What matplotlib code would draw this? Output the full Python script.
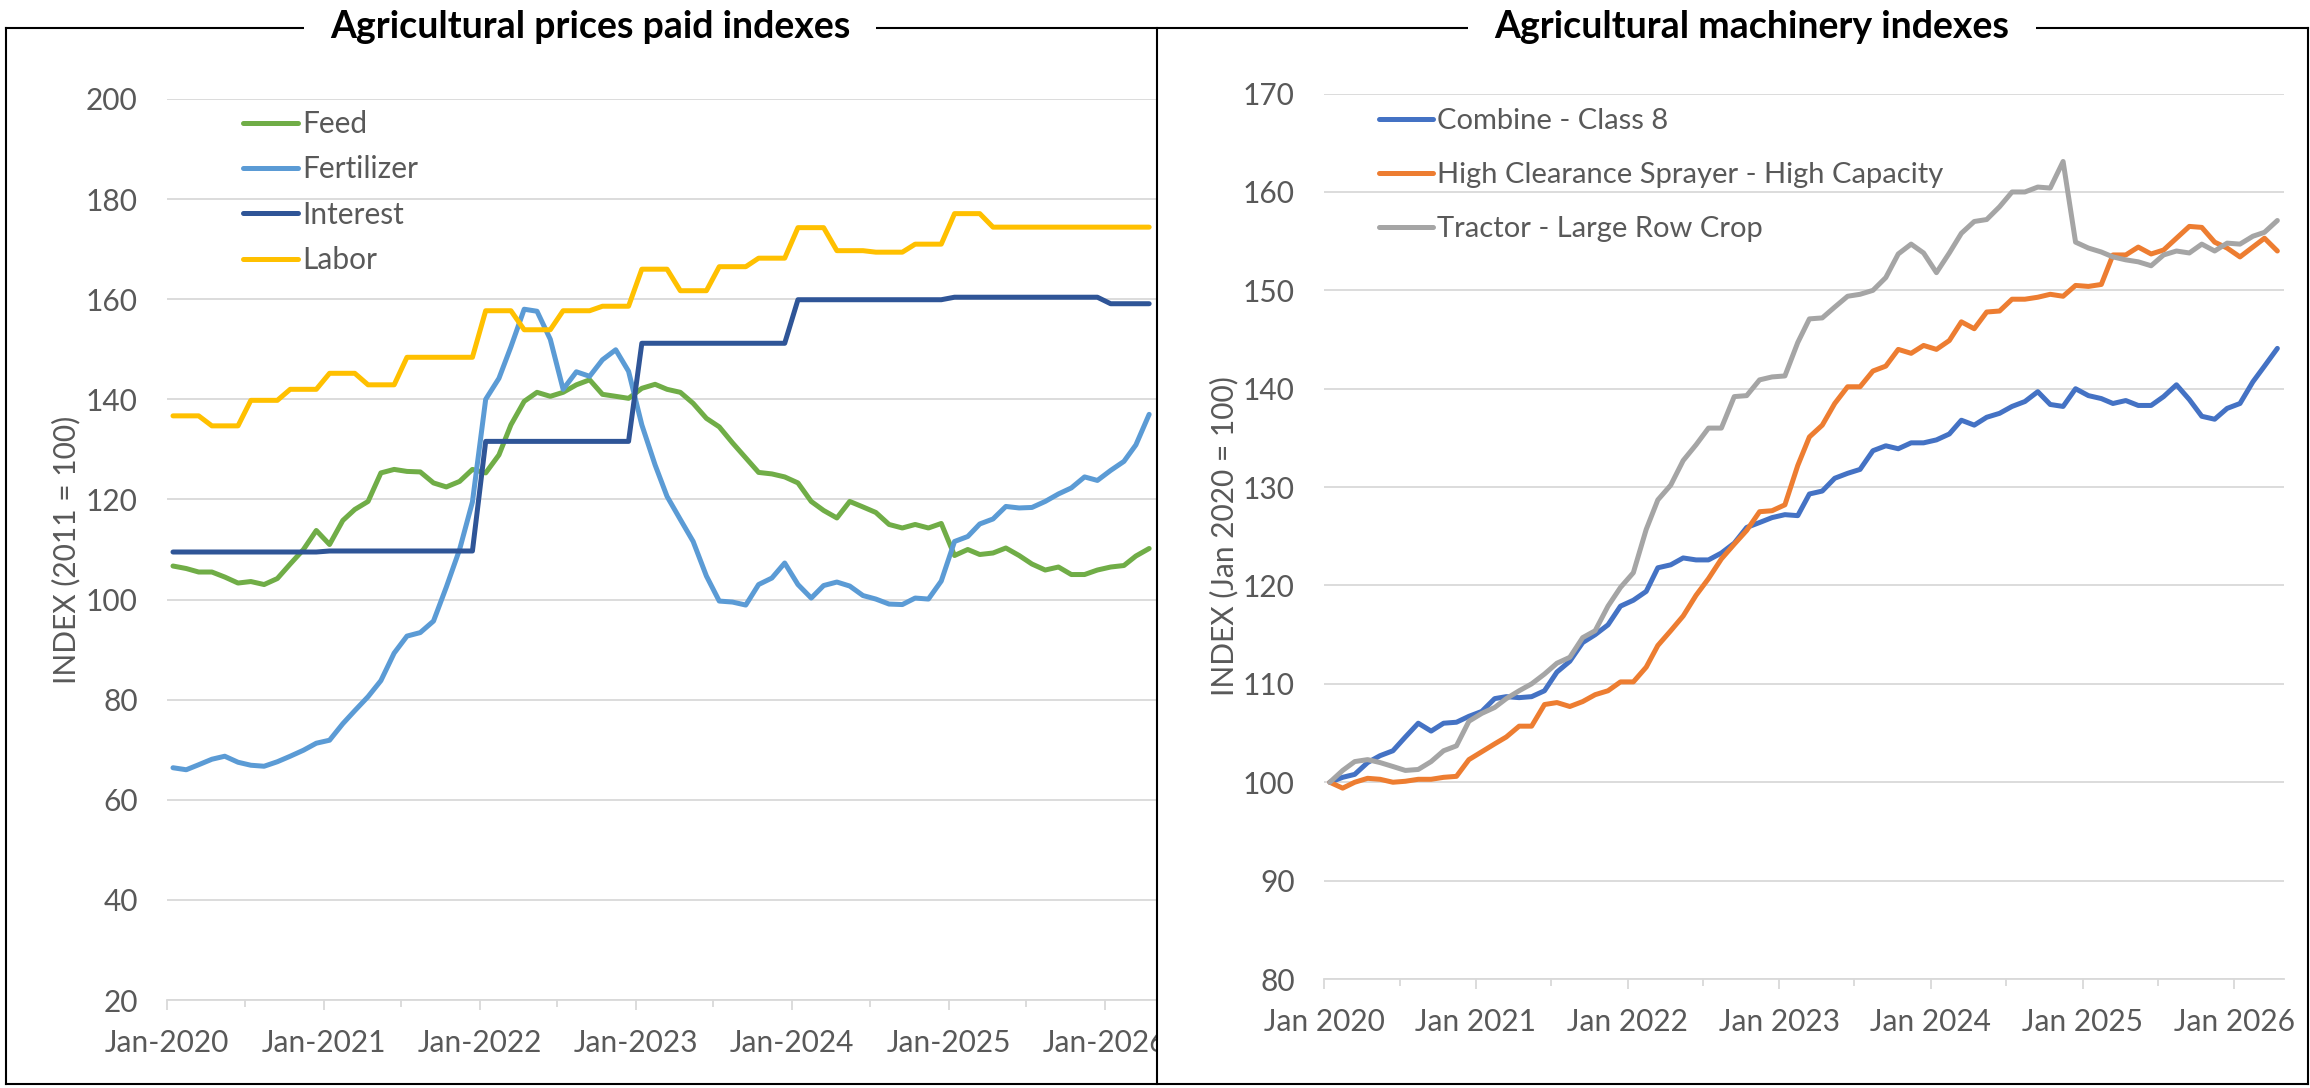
import pandas as pd
import matplotlib
matplotlib.use("Agg")
import matplotlib.pyplot as plt
import matplotlib.dates as mdates
from matplotlib.lines import Line2D
from matplotlib.transforms import Bbox, TransformedBbox

plt.rcParams["font.family"] = ["Lato", "DejaVu Sans"]

# monthly data Jan 2020 - Apr 2026, drawn at mid-month like the excel date axis
months = pd.date_range("2020-01-01", periods=76, freq="MS") + pd.Timedelta(days=14)

# ---- left panel: prices paid indexes (2011 = 100)
feed = [106.7, 106.2, 105.5, 105.5, 104.5, 103.3, 103.6, 103.0, 104.2, 107.1, 110.0, 113.8,
        111.0, 115.8, 118.0, 119.6, 125.3, 126.0, 125.6, 125.5, 123.3, 122.5, 123.6, 126.0,
        125.3, 128.9, 134.9, 139.6, 141.4, 140.6, 141.4, 142.9, 143.9, 141.0, 140.6, 140.2,
        142.2, 143.0, 142.0, 141.4, 139.2, 136.2, 134.5, 131.3, 128.3, 125.4, 125.1, 124.5,
        123.3, 119.6, 117.8, 116.3, 119.6, 118.5, 117.4, 115.0, 114.3, 115.0, 114.3, 115.2,
        108.8, 110.0, 109.0, 109.3, 110.3, 108.8, 107.1, 105.9, 106.5, 105.0, 105.0, 105.9,
        106.5, 106.8, 108.7, 110.2]
fertilizer = [66.4, 66.0, 67.0, 68.1, 68.7, 67.5, 66.9, 66.7, 67.6, 68.7, 69.9, 71.3,
              71.9, 75.2, 77.8, 80.6, 83.8, 89.3, 92.7, 93.4, 95.7, 102.5, 110.0, 119.5,
              140.0, 144.2, 150.5, 158.0, 157.6, 152.0, 142.0, 145.5, 144.6, 147.9, 149.9, 145.6,
              134.9, 126.9, 120.6, 116.0, 111.6, 104.7, 99.7, 99.5, 98.9, 103.0, 104.3, 107.3,
              103.0, 100.3, 102.8, 103.5, 102.7, 100.8, 100.1, 99.1, 99.0, 100.3, 100.1, 103.7,
              111.6, 112.6, 115.1, 116.1, 118.6, 118.3, 118.4, 119.6, 121.1, 122.3, 124.5, 123.8,
              125.8, 127.6, 130.9, 137.0]
interest = [109.5, 109.5, 109.5, 109.5, 109.5, 109.5, 109.5, 109.5, 109.5, 109.5, 109.5, 109.5,
            109.7, 109.7, 109.7, 109.7, 109.7, 109.7, 109.7, 109.7, 109.7, 109.7, 109.7, 109.7,
            131.6, 131.6, 131.6, 131.6, 131.6, 131.6, 131.6, 131.6, 131.6, 131.6, 131.6, 131.6,
            151.2, 151.2, 151.2, 151.2, 151.2, 151.2, 151.2, 151.2, 151.2, 151.2, 151.2, 151.2,
            159.9, 159.9, 159.9, 159.9, 159.9, 159.9, 159.9, 159.9, 159.9, 159.9, 159.9, 159.9,
            160.4, 160.4, 160.4, 160.4, 160.4, 160.4, 160.4, 160.4, 160.4, 160.4, 160.4, 160.4,
            159.1, 159.1, 159.1, 159.1]
labor = [136.7, 136.7, 136.7, 134.7, 134.7, 134.7, 139.8, 139.8, 139.8, 142.0, 142.0, 142.0,
         145.2, 145.2, 145.2, 142.9, 142.9, 142.9, 148.4, 148.4, 148.4, 148.4, 148.4, 148.4,
         157.7, 157.7, 157.7, 153.9, 153.9, 153.9, 157.7, 157.7, 157.7, 158.6, 158.6, 158.6,
         166.0, 166.0, 166.0, 161.7, 161.7, 161.7, 166.5, 166.5, 166.5, 168.2, 168.2, 168.2,
         174.3, 174.3, 174.3, 169.7, 169.7, 169.7, 169.4, 169.4, 169.4, 171.0, 171.0, 171.0,
         177.1, 177.1, 177.1, 174.4, 174.4, 174.4, 174.4, 174.4, 174.4, 174.4, 174.4, 174.4,
         174.4, 174.4, 174.4, 174.4]

# ---- right panel: machinery indexes (Jan 2020 = 100)
combine = [100.0, 100.5, 100.8, 102.0, 102.7, 103.2, 104.6, 106.0, 105.2, 106.0, 106.1, 106.7,
           107.2, 108.5, 108.7, 108.6, 108.7, 109.3, 111.2, 112.3, 114.2, 115.0, 116.0, 117.9,
           118.5, 119.4, 121.8, 122.1, 122.8, 122.6, 122.6, 123.3, 124.3, 125.9, 126.4, 126.9,
           127.2, 127.1, 129.3, 129.6, 130.9, 131.4, 131.8, 133.7, 134.2, 133.9, 134.5, 134.5,
           134.8, 135.4, 136.8, 136.3, 137.1, 137.5, 138.2, 138.7, 139.7, 138.4, 138.2, 140.0,
           139.3, 139.0, 138.5, 138.8, 138.3, 138.3, 139.2, 140.4, 138.9, 137.2, 136.9, 138.0,
           138.5, 140.7, 142.3, 144.1]
sprayer = [100.0, 99.4, 100.0, 100.4, 100.3, 100.0, 100.1, 100.3, 100.3, 100.5, 100.6, 102.3,
           103.1, 103.9, 104.6, 105.7, 105.7, 107.9, 108.1, 107.7, 108.2, 108.9, 109.3, 110.2,
           110.2, 111.7, 113.9, 115.4, 116.9, 119.0, 120.7, 122.7, 124.2, 125.6, 127.5, 127.6,
           128.2, 132.2, 135.1, 136.3, 138.5, 140.2, 140.2, 141.8, 142.3, 144.0, 143.6, 144.4,
           144.0, 144.9, 146.8, 146.1, 147.8, 147.9, 149.1, 149.1, 149.3, 149.6, 149.4, 150.5,
           150.4, 150.6, 153.6, 153.6, 154.4, 153.7, 154.1, 155.3, 156.5, 156.4, 154.9, 154.3,
           153.4, 154.4, 155.3, 154.0]
tractor = [100.0, 101.2, 102.1, 102.3, 102.0, 101.6, 101.2, 101.3, 102.1, 103.2, 103.7, 106.2,
           107.0, 107.6, 108.5, 109.3, 110.0, 111.0, 112.1, 112.7, 114.7, 115.4, 117.9, 119.8,
           121.3, 125.7, 128.7, 130.2, 132.7, 134.3, 136.0, 136.0, 139.2, 139.3, 140.9, 141.2,
           141.3, 144.7, 147.1, 147.2, 148.3, 149.4, 149.6, 150.0, 151.3, 153.7, 154.7, 153.8,
           151.8, 153.8, 155.8, 157.0, 157.2, 158.5, 160.0, 160.0, 160.5, 160.4, 163.1, 154.9,
           154.3, 153.9, 153.4, 153.1, 152.9, 152.5, 153.6, 154.0, 153.8, 154.7, 154.0, 154.8,
           154.7, 155.5, 155.9, 157.1]

W, H = 2310, 1088
GRID = "#d9d9d9"
TXT = "#595959"
FS = 21.5

fig = plt.figure(figsize=(W / 100, H / 100), dpi=100)
ax1 = fig.add_axes([167 / W, 1 - 1000 / H, 989 / W, 901 / H])
ax2 = fig.add_axes([1324 / W, 1 - 979 / H, 960 / W, 885.4 / H])


def style_axes(ax, fmt):
    ax.grid(axis="y", color=GRID, lw=1.3)
    ax.set_axisbelow(True)
    for s in ["left", "right", "top"]:
        ax.spines[s].set_visible(False)
    ax.spines["bottom"].set_color(GRID)
    ax.spines["bottom"].set_linewidth(1.3)
    ax.xaxis.set_major_locator(mdates.YearLocator())
    ax.xaxis.set_minor_locator(mdates.MonthLocator(bymonth=7))
    ax.xaxis.set_major_formatter(mdates.DateFormatter(fmt))
    ax.tick_params(axis="x", which="major", length=7, width=1.3, color=GRID,
                   pad=14, labelsize=FS, labelcolor=TXT)
    ax.tick_params(axis="x", which="minor", length=5, width=1.3, color=GRID)
    ax.tick_params(axis="y", length=0, pad=21, labelsize=FS, labelcolor=TXT)
    ax.set_xlim(pd.Timestamp("2020-01-01"), pd.Timestamp("2026-05-01"))


line_kw = dict(lw=3.6, solid_capstyle="round", solid_joinstyle="round")

ax1.plot(months, feed, color="#70AD47", label="Feed", **line_kw)
ax1.plot(months, fertilizer, color="#5B9BD5", label="Fertilizer", **line_kw)
ax1.plot(months, interest, color="#2F5597", label="Interest", **line_kw)
ax1.plot(months, labor, color="#FFC000", label="Labor", **line_kw)
style_axes(ax1, "%b-%Y")
ax1.set_ylim(20, 200)
ax1.set_yticks(range(20, 201, 20))
ax1.set_ylabel("INDEX (2011 = 100)", fontsize=FS, color=TXT)
ax1.yaxis.set_label_coords(-0.088, 0.5)
ax1.legend(loc="upper left", bbox_to_anchor=(243 / W, 1 - 110 / H),
           bbox_transform=fig.transFigure, frameon=False, fontsize=FS,
           labelcolor=TXT, handlelength=1.85, handletextpad=0.15,
           labelspacing=0.58, borderpad=0, borderaxespad=0)

ax2.plot(months, combine, color="#4472C4", label="Combine - Class 8", **line_kw)
ax2.plot(months, sprayer, color="#ED7D31",
         label="High Clearance Sprayer - High Capacity", **line_kw)
ax2.plot(months, tractor, color="#A5A5A5", label="Tractor - Large Row Crop", **line_kw)
style_axes(ax2, "%b %Y")
ax2.set_ylim(80, 170)
ax2.set_yticks(range(80, 171, 10))
ax2.set_ylabel("INDEX (Jan 2020 = 100)", fontsize=FS, color=TXT)
ax2.yaxis.set_label_coords(-0.0896, 0.5)
ax2.legend(loc="upper left", bbox_to_anchor=(1379 / W, 1 - 108 / H),
           bbox_transform=fig.transFigure, frameon=False, fontsize=21,
           labelcolor=TXT, handlelength=1.85, handletextpad=0.15,
           labelspacing=0.96, borderpad=0, borderaxespad=0)

# left panel is cut off at the divider, including the last tick label
clip = TransformedBbox(Bbox([[0, 0], [1157 / W, 1]]), fig.transFigure)
for lab in ax1.get_xticklabels():
    lab.set_clip_on(True)
    lab.set_clip_box(clip)

# boxes around the two panels
frame = dict(color="black", lw=1.5, transform=fig.transFigure)
top, bottom = 1 - 28 / H, 1 - 1084 / H
fig.add_artist(Line2D([6 / W, 2308 / W], [top, top], **frame))
fig.add_artist(Line2D([6 / W, 2308 / W], [bottom, bottom], **frame))
for xv in [6, 1157, 2308]:
    fig.add_artist(Line2D([xv / W, xv / W], [top, bottom], **frame))

for xc, title in [(590, "Agricultural prices paid indexes"),
                  (1752, "Agricultural machinery indexes")]:
    fig.text(xc / W, 1 - 27 / H, title, ha="center", va="center", fontsize=27,
             fontweight="bold", color="black",
             bbox=dict(boxstyle="square,pad=0.7", fc="white", ec="none"))

fig.savefig("out.png", dpi=100)
